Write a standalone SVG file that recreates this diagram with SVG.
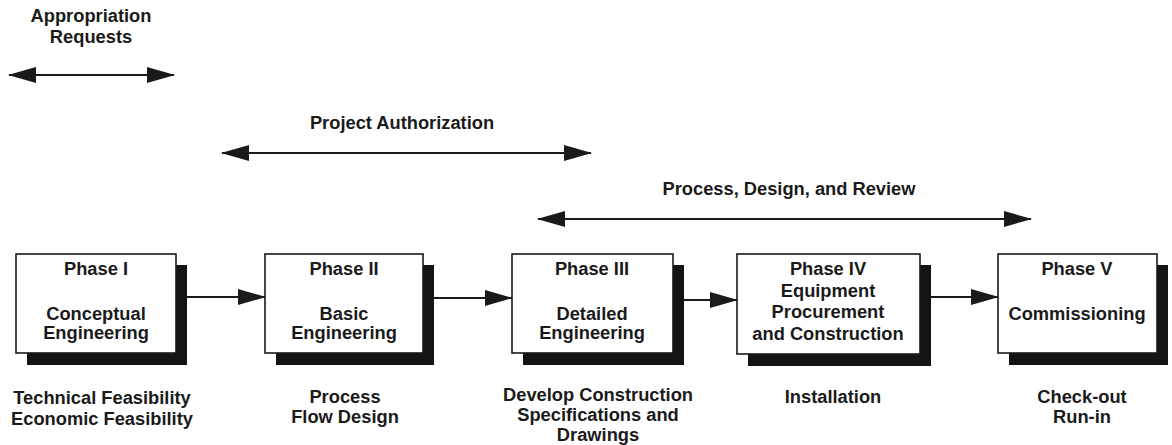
<svg xmlns="http://www.w3.org/2000/svg" width="1172" height="445" viewBox="0 0 1172 445">
<style>
text{font-family:"Liberation Sans",Arial,Helvetica,sans-serif;font-weight:bold;font-size:18.3px;fill:#1a1a1a;text-anchor:middle}
.box{fill:#fff;stroke:#1a1a1a;stroke-width:1.6}
.shadow{fill:#141414}
.conn{stroke:#1a1a1a;stroke-width:1.8;fill:none}
</style>
<defs>
<marker id="ah" viewBox="0 0 28 16" refX="27" refY="8" markerWidth="28" markerHeight="16" markerUnits="userSpaceOnUse" orient="auto-start-reverse">
<path d="M0,0 L28,8 L0,16 z" fill="#1a1a1a"/>
</marker>
</defs>
<rect width="1172" height="445" fill="#fff"/>

<g id="connectors">
<line class="conn" x1="9" y1="75" x2="174" y2="75" marker-start="url(#ah)" marker-end="url(#ah)"/>
<line class="conn" x1="222" y1="153" x2="591" y2="153" marker-start="url(#ah)" marker-end="url(#ah)"/>
<line class="conn" x1="538" y1="219" x2="1031" y2="219" marker-start="url(#ah)" marker-end="url(#ah)"/>
<line class="conn" x1="187" y1="297" x2="265" y2="297" marker-end="url(#ah)"/>
<line class="conn" x1="434" y1="298" x2="512" y2="298" marker-end="url(#ah)"/>
<line class="conn" x1="684" y1="300" x2="737" y2="300" marker-end="url(#ah)"/>
<line class="conn" x1="931" y1="297" x2="998" y2="297" marker-end="url(#ah)"/>
</g>

<g id="span-labels">
<text x="91" y="22">Appropriation</text>
<text x="91" y="43">Requests</text>
<text x="402" y="129">Project Authorization</text>
<text x="789" y="195">Process, Design, and Review</text>
</g>

<g id="phase1">
<rect class="shadow" x="27" y="265" width="160" height="100"/>
<rect class="box" x="16" y="254" width="160" height="99"/>
<text x="96" y="275">Phase I</text>
<text x="96" y="320">Conceptual</text>
<text x="96" y="339">Engineering</text>
</g>

<g id="phase2">
<rect class="shadow" x="276" y="265" width="158" height="100"/>
<rect class="box" x="265" y="254" width="158" height="99"/>
<text x="344" y="275">Phase II</text>
<text x="344" y="320">Basic</text>
<text x="344" y="339">Engineering</text>
</g>

<g id="phase3">
<rect class="shadow" x="523" y="265" width="161" height="100"/>
<rect class="box" x="512" y="254" width="161" height="99"/>
<text x="592" y="275">Phase III</text>
<text x="592" y="320">Detailed</text>
<text x="592" y="339">Engineering</text>
</g>

<g id="phase4">
<rect class="shadow" x="748" y="265" width="183" height="101"/>
<rect class="box" x="737" y="254" width="183" height="100"/>
<text x="828" y="275">Phase IV</text>
<text x="828" y="297">Equipment</text>
<text x="828" y="318">Procurement</text>
<text x="828" y="340">and Construction</text>
</g>

<g id="phase5">
<rect class="shadow" x="1009" y="265" width="159" height="100"/>
<rect class="box" x="998" y="254" width="159" height="99"/>
<text x="1077" y="275">Phase V</text>
<text x="1077" y="320">Commissioning</text>
</g>

<g id="phase-notes">
<text x="102" y="404">Technical Feasibility</text>
<text x="102" y="425">Economic Feasibility</text>
<text x="345" y="403">Process</text>
<text x="345" y="423">Flow Design</text>
<text x="598" y="401">Develop Construction</text>
<text x="598" y="421">Specifications and</text>
<text x="598" y="441">Drawings</text>
<text x="833" y="403">Installation</text>
<text x="1082" y="403">Check-out</text>
<text x="1082" y="423">Run-in</text>
</g>
</svg>
